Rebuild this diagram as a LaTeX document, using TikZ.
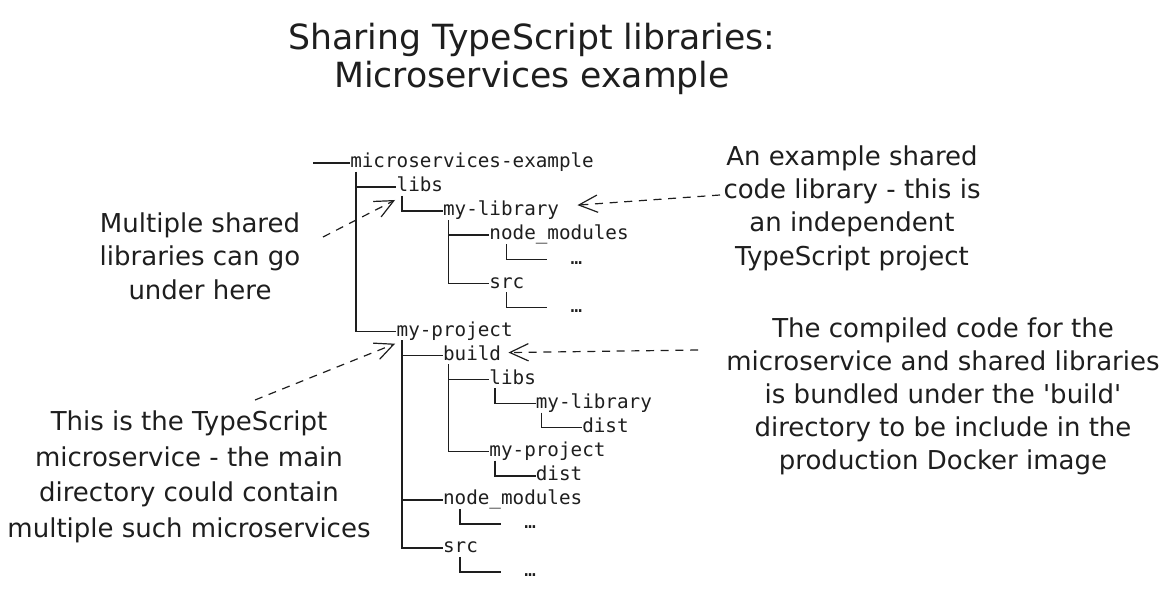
\documentclass[tikz,border=0pt]{standalone}
\usepackage{fontspec}
\setmainfont{DejaVu Sans}
\setmonofont{DejaVu Sans Mono}
\newfontfamily\notefont{DejaVu Sans}
\usetikzlibrary{arrows.meta}
\definecolor{ink}{HTML}{1E1E1E}
\tikzset{dir/.style={anchor=west,inner sep=0pt,text=ink,
   font=\ttfamily\fontsize{14.45}{17}\selectfont,text height=10.1pt,text depth=2.9pt},
 branch/.style={draw=ink,line width=1.1pt},
 note/.style={align=center,text=ink,inner sep=0pt,font=\notefont\fontsize{19.5}{25}\selectfont},
 callout/.style={draw=ink,line width=0.9pt,dash pattern=on 6pt off 5pt,
   -{Straight Barb[length=14pt,width=13pt]}},
}

\begin{document}
\begin{tikzpicture}[x=0.75pt,y=-0.75pt]
\useasboundingbox (0,0) rectangle (1176,592);
% title
\node[note,font=\notefont\fontsize{26}{28.5}\selectfont] (title) at (532,59)
  {Sharing TypeScript libraries:\\Microservices example};

% directory tree
\coordinate (stub) at (313,163);
\node[dir] (root) at (350,163) {microservices-example};
\node[dir] (libs) at (396.4,187.06) {libs};
\node[dir] (mylib) at (442.8,211.12) {my-library};
\node[dir] (libnm) at (489.2,235.18) {node\_modules};
\node[dir] (libnmdots) at (570.4,259.24) {…};
\node[dir] (libsrc) at (489.2,283.3) {src};
\node[dir] (libsrcdots) at (570.4,307.36) {…};
\node[dir] (proj) at (396.4,331.42) {my-project};
\node[dir] (build) at (442.8,355.48) {build};
\node[dir] (blibs) at (489.2,379.54) {libs};
\node[dir] (bmylib) at (535.6,403.6) {my-library};
\node[dir] (bmylibdist) at (582,427.66) {dist};
\node[dir] (bproj) at (489.2,451.72) {my-project};
\node[dir] (bprojdist) at (535.6,475.78) {dist};
\node[dir] (projnm) at (442.8,499.84) {node\_modules};
\node[dir] (projnmdots) at (524,523.9) {…};
\node[dir] (projsrc) at (442.8,547.96) {src};
\node[dir] (projsrcdots) at (524,572.02) {…};

\draw[branch] (stub) -- (root.west);
\foreach \p/\c in {root/libs,root/proj,libs/mylib,mylib/libnm,mylib/libsrc,
    proj/build,proj/projnm,proj/projsrc,build/blibs,build/bproj,
    blibs/bmylib,bmylib/bmylibdist,bproj/bprojdist}
  \draw[branch] ([xshift=4.35pt]\p.south west) |- (\c.west);
\foreach \p/\c in {libnm/libnmdots,libsrc/libsrcdots,projnm/projnmdots,projsrc/projsrcdots}
  \draw[branch,shorten >=17.4pt] ([xshift=13.05pt]\p.south west) |- (\c.west);

% notes
\node[note] (libnote) at (200,256) {Multiple shared\\libraries can go\\under here};
\node[note,font=\notefont\fontsize{19.5}{26.6}\selectfont] (projnote) at (189,477)
  {This is the TypeScript\\microservice - the main\\directory could contain\\multiple such microservices};
\node[note] (libdesc) at (852,208) {An example shared\\code library - this is\\an independent\\TypeScript project};
\node[note,font=\notefont\fontsize{19.5}{24.75}\selectfont] (builddesc) at (943,396)
  {The compiled code for the\\microservice and shared libraries\\is bundled under the 'build'\\directory to be include in the\\production Docker image};

\coordinate (libtail) at (323,237);
\coordinate (mylibtail) at (720,195);
\coordinate (projtail) at (255,400);
\coordinate (buildtail) at (698,350);
\draw[callout] (libtail) -- ([shift={(-1pt,-3pt)}]libs.south west);
\draw[callout] (mylibtail) -- ([shift={(13.6pt,4.5pt)}]mylib.east);
\draw[callout] (projtail) -- ([shift={(-1pt,-2.5pt)}]proj.south west);
\draw[callout] (buildtail) -- ([shift={(5.3pt,2.2pt)}]build.east);
\end{tikzpicture}
\end{document}
